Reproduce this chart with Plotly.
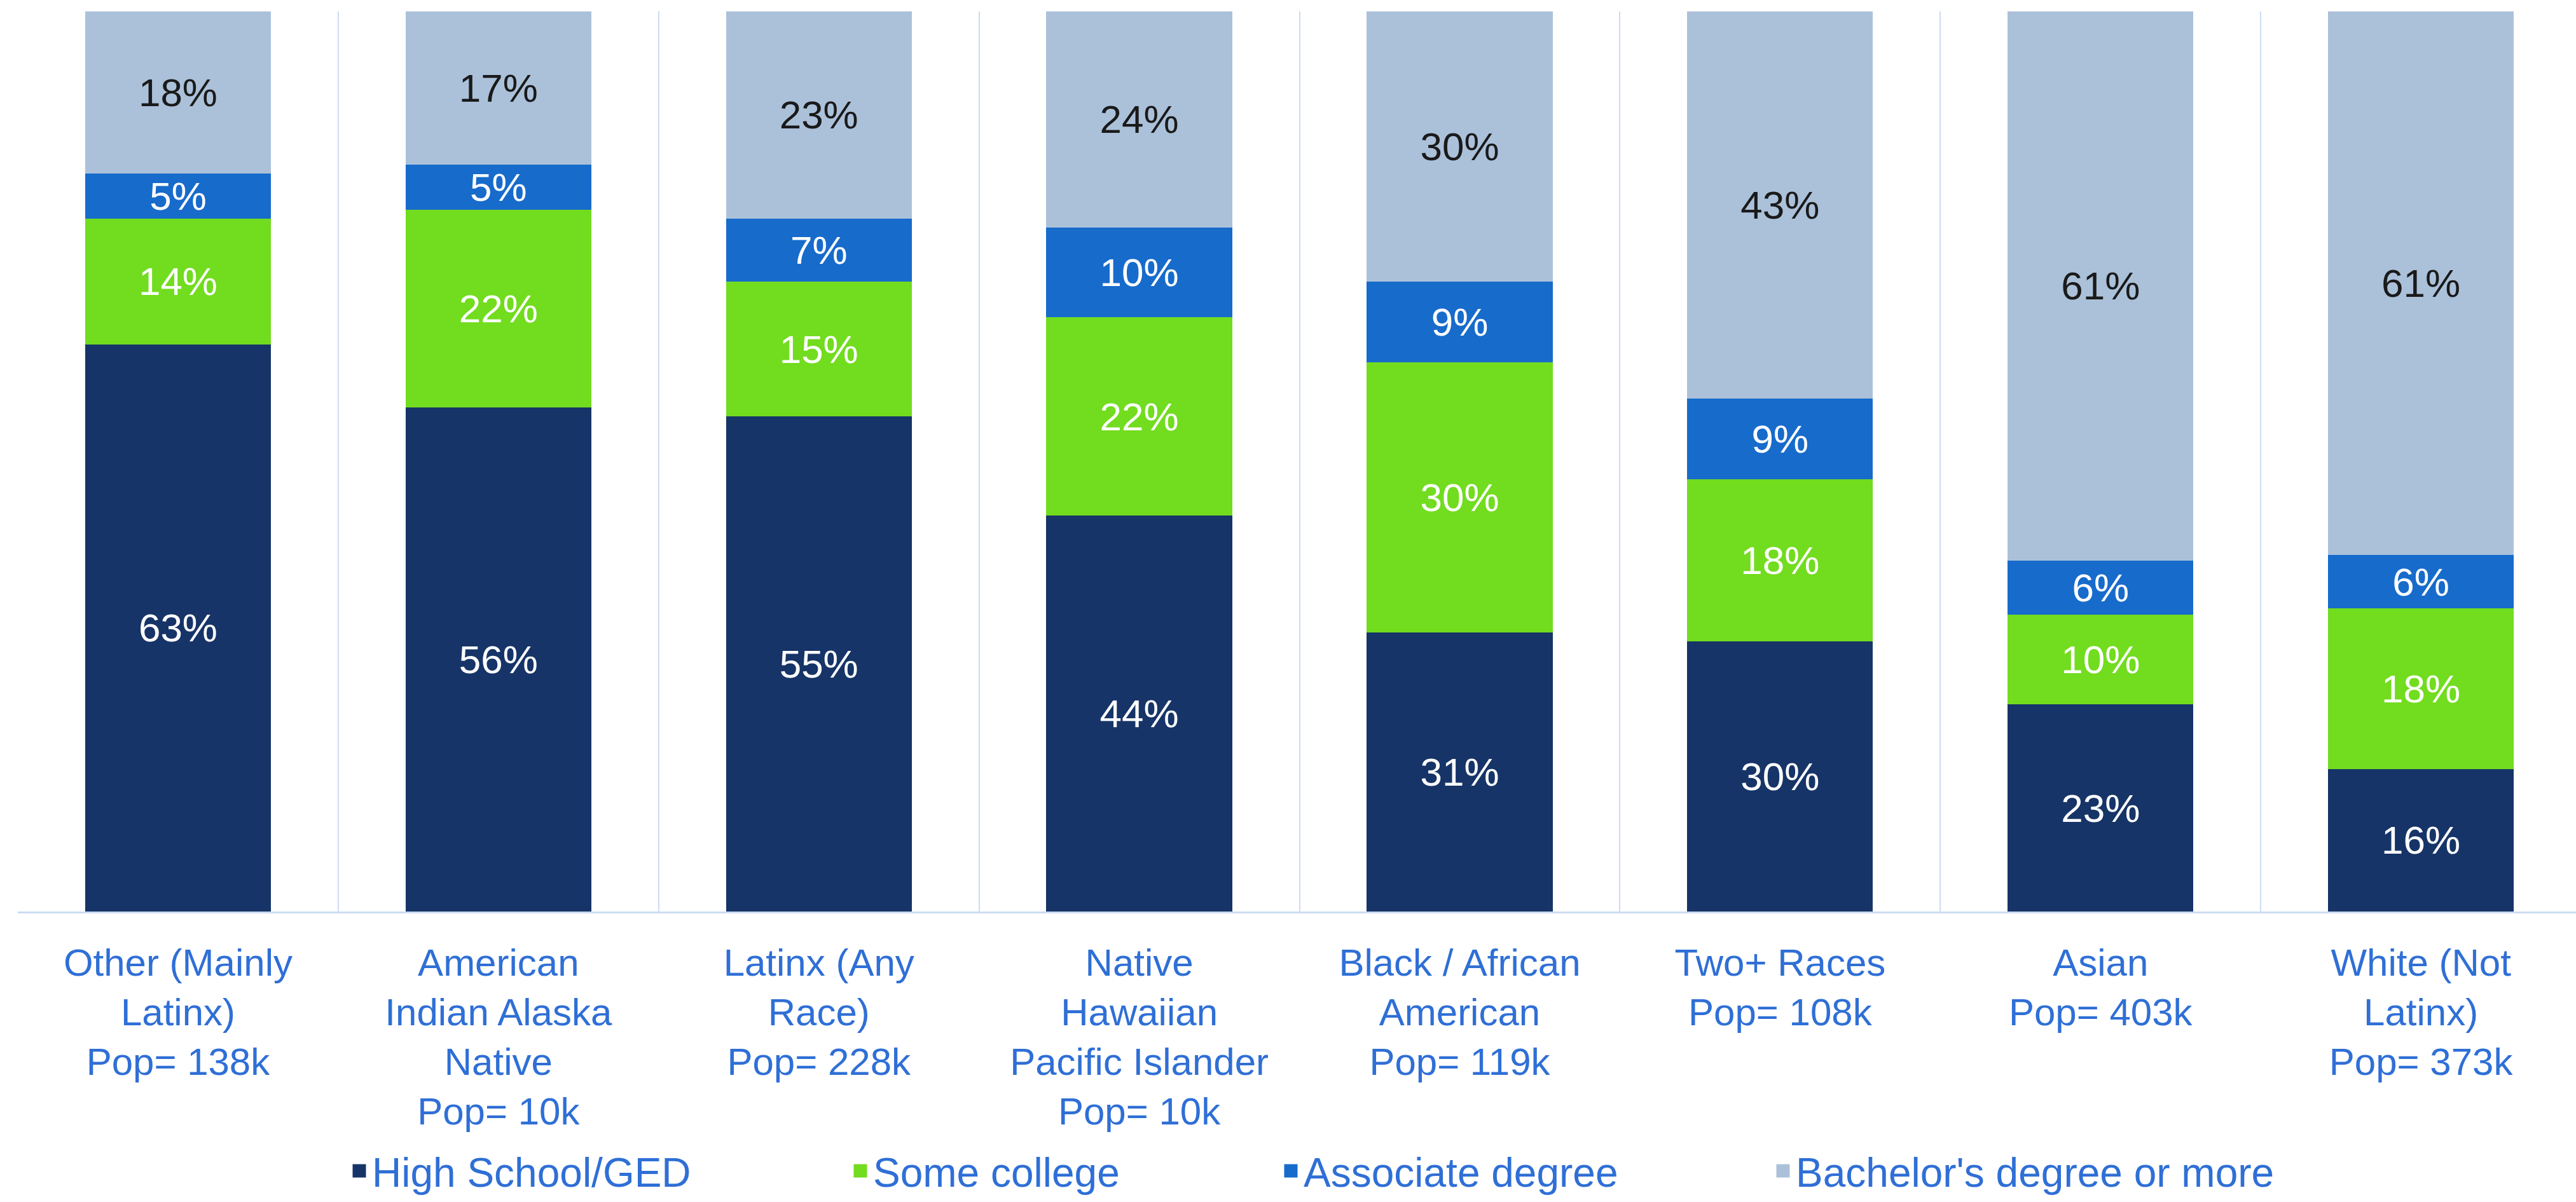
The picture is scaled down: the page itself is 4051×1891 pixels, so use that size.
import plotly.graph_objects as go

# Educational attainment by race / ethnicity (share of adults, %)
groups = [
    "Other (Mainly<br>Latinx)",
    "American<br>Indian Alaska<br>Native",
    "Latinx (Any<br>Race)",
    "Native<br>Hawaiian<br>Pacific Islander",
    "Black / African<br>American",
    "Two+ Races",
    "Asian",
    "White (Not<br>Latinx)",
]
population = ["138k", "10k", "228k", "10k", "119k", "108k", "403k", "373k"]

high_school = [63, 56, 55, 44, 31, 30, 23, 16]
some_college = [14, 22, 15, 22, 30, 18, 10, 18]
associate = [5, 5, 7, 10, 9, 9, 6, 6]
bachelors = [18, 17, 23, 24, 30, 43, 61, 61]

series_names = ["High School/GED", "Some college", "Associate degree",
                "Bachelor's degree or more"]
series_values = [high_school, some_college, associate, bachelors]
series_colors = ["#163467", "#72DC1F", "#176BCB", "#ABC1DA"]
text_colors = ["#FFFFFF", "#FFFFFF", "#FFFFFF", "#1A1A1A"]

FONT = "Liberation Sans, Arial, Helvetica, sans-serif"
LABEL_BLUE = "#2F6FD6"
GRID_BLUE = "#CCDCF2"

labels = [f"{g}<br>Pop= {p}" for g, p in zip(groups, population)]

# left edge of each legend entry, in px across the page
legend_x_px = [545, 1333, 2010, 2784]
legend_ids = ["legend", "legend2", "legend3", "legend4"]

fig = go.Figure()
for name, vals, col, tcol, lid in zip(series_names, series_values,
                                      series_colors, text_colors, legend_ids):
    fig.add_trace(go.Bar(
        name=name,
        x=labels,
        y=vals,
        text=vals,
        texttemplate="%{text}%",
        textposition="inside",
        insidetextanchor="middle",
        textangle=0,
        textfont=dict(family=FONT, size=62, color=tcol),
        marker=dict(color=col, line=dict(width=0)),
        legendgroup=name,
        showlegend=False,
        hoverinfo="skip",
    ))
    # square swatch shown in the legend for this series
    fig.add_trace(go.Scatter(
        name=name,
        x=[None], y=[None],
        mode="markers",
        marker=dict(symbol="square", size=16, color=col,
                    line=dict(color=col, width=5)),
        legendgroup=name,
        legend=lid,
        showlegend=True,
        hoverinfo="skip",
    ))

W, H = 4051, 1891

layout_legends = {}
for lid, xpx in zip(legend_ids, legend_x_px):
    layout_legends[lid] = dict(
        orientation="h",
        xref="container", yref="container",
        x=xpx / W, y=-0.006,
        xanchor="left", yanchor="bottom",
        font=dict(family=FONT, size=64, color=LABEL_BLUE),
        bgcolor="rgba(0,0,0,0)",
        borderwidth=0,
        itemwidth=30,
    )

fig.update_layout(
    width=W, height=H,
    barmode="stack",
    barnorm="percent",
    bargap=0.42,
    plot_bgcolor="white",
    paper_bgcolor="white",
    margin=dict(l=28, r=0, t=18, b=457),
    uniformtext=dict(minsize=62, mode="show"),
    showlegend=True,
    **layout_legends,
)

fig.update_xaxes(
    type="category",
    range=[-0.5, 7.484],
    tickson="boundaries",
    ticks="",
    showgrid=True,
    gridcolor=GRID_BLUE,
    gridwidth=2,
    showline=True,
    linecolor=GRID_BLUE,
    linewidth=3,
    tickfont=dict(family=FONT, size=60, color=LABEL_BLUE),
    ticklabelstandoff=26,
)
fig.update_yaxes(
    range=[0, 100],
    showgrid=False,
    showticklabels=False,
    zeroline=False,
    ticks="",
)

fig.write_html("out.html")
